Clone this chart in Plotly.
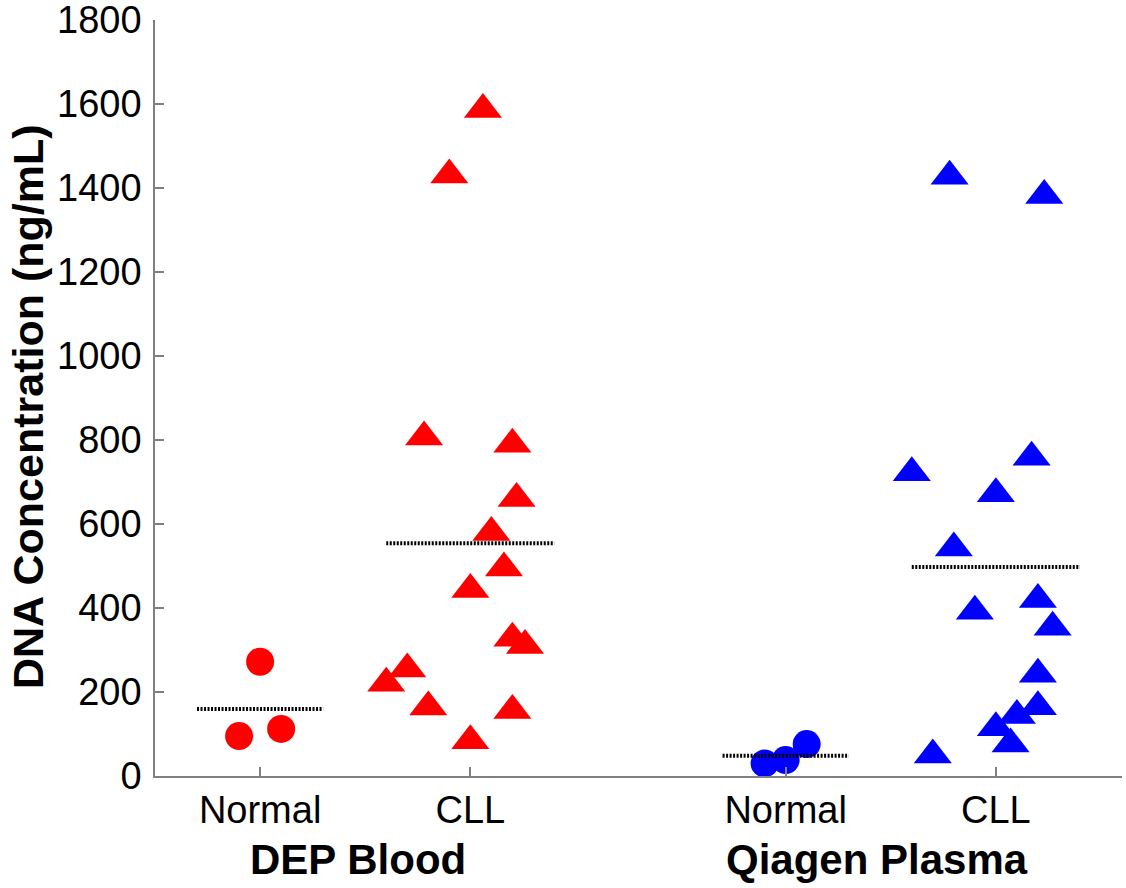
import numpy as np
import plotly.graph_objects as go

# ---- data ----
dep_normal_x = [1.0, 0.9, 1.1]
dep_normal_y = [272, 95, 112]

dep_cll_x = [1.78, 2.20, 2.22, 2.10, 2.16, 2.00, 2.20, 2.26, 1.70, 1.60, 1.80, 2.20, 2.00, 2.06, 1.90]
dep_cll_y = [807, 790, 661, 580, 495, 444, 328, 311, 255, 221, 164, 156, 84, 1587, 1431]

qia_normal_x = [3.4, 3.5, 3.6]
qia_normal_y = [30, 38, 76]

qia_cll_x = [4.67, 4.10, 4.50, 4.30, 4.70, 4.40, 4.77, 4.70, 4.70, 4.60, 4.50, 4.57, 4.20, 4.28, 4.73]
qia_cll_y = [759, 722, 672, 543, 420, 392, 354, 242, 165, 144, 115, 76, 50, 1428, 1382]

category_positions = [1, 2, 3.5, 4.5]
category_labels = ["Normal", "CLL", "Normal", "CLL"]
group_labels = ["DEP Blood", "Qiagen Plasma"]
group_label_x = [1.467, 3.933]
y_ticks = list(range(0, 1801, 200))

FONT = "Liberation Sans, Arial, Helvetica, sans-serif"
AXIS_COLOR = "#808080"

fig = go.Figure()

def add_points(x, y, color, symbol, size):
    fig.add_trace(go.Scatter(
        x=x, y=y, mode="markers",
        marker=dict(color=color, symbol=symbol, size=size, line=dict(width=0)),
        cliponaxis=False, showlegend=False, hoverinfo="x+y"))

def add_mean(center, y, half_width):
    m = float(np.mean(y))
    fig.add_trace(go.Scatter(
        x=[center - half_width, center + half_width], y=[m, m], mode="lines",
        line=dict(color="black", width=4, dash="2px,1.5px"),
        showlegend=False, hoverinfo="y"))

add_points(dep_normal_x, dep_normal_y, "#FF0000", "circle", 28)
add_points(dep_cll_x, dep_cll_y, "#FF0000", "triangle-up", 33)
add_points(qia_normal_x, qia_normal_y, "#0000FF", "circle", 28)
add_points(qia_cll_x, qia_cll_y, "#0000FF", "triangle-up", 33)

add_mean(category_positions[0], dep_normal_y, 0.3)
add_mean(category_positions[1], dep_cll_y, 0.4)
add_mean(category_positions[2], qia_normal_y, 0.3)
add_mean(category_positions[3], qia_cll_y, 0.4)

for gx, gl in zip(group_label_x, group_labels):
    fig.add_annotation(x=gx, xref="x", y=0, yref="paper", text="<b>%s</b>" % gl,
                       showarrow=False, xanchor="center", yanchor="middle",
                       yshift=-83, font=dict(family=FONT, size=42, color="black"))

fig.add_annotation(x=0, xref="paper", y=0.5, yref="paper",
                   text="<b>DNA Concentration (ng/mL)</b>", textangle=-90,
                   showarrow=False, xanchor="center", yanchor="middle",
                   xshift=-127, yshift=-9,
                   font=dict(family=FONT, size=43, color="black"))

fig.update_layout(
    width=1126, height=888,
    margin=dict(l=155, r=4, t=20, b=112),
    paper_bgcolor="white", plot_bgcolor="white",
    font=dict(family=FONT, color="black"),
    xaxis=dict(range=[0.5, 5.1], showgrid=False, zeroline=False, automargin=False,
               showline=True, linecolor=AXIS_COLOR, linewidth=1.5,
               ticks="inside", ticklen=9, tickwidth=1.5, tickcolor=AXIS_COLOR,
               tickvals=category_positions, ticktext=category_labels,
               ticklabeloverflow="allow",
               tickfont=dict(family=FONT, size=38, color="black")),
    yaxis=dict(range=[0, 1800], showgrid=False, zeroline=False, automargin=False,
               showline=True, linecolor=AXIS_COLOR, linewidth=1.5,
               ticks="inside", ticklen=9, tickwidth=1.5, tickcolor=AXIS_COLOR,
               tickvals=y_ticks, ticktext=[str(t) for t in y_ticks],
               ticklabeloverflow="allow",
               tickfont=dict(family=FONT, size=38, color="black"),
               ticklabelstandoff=4),
)

fig.write_html("out.html")
